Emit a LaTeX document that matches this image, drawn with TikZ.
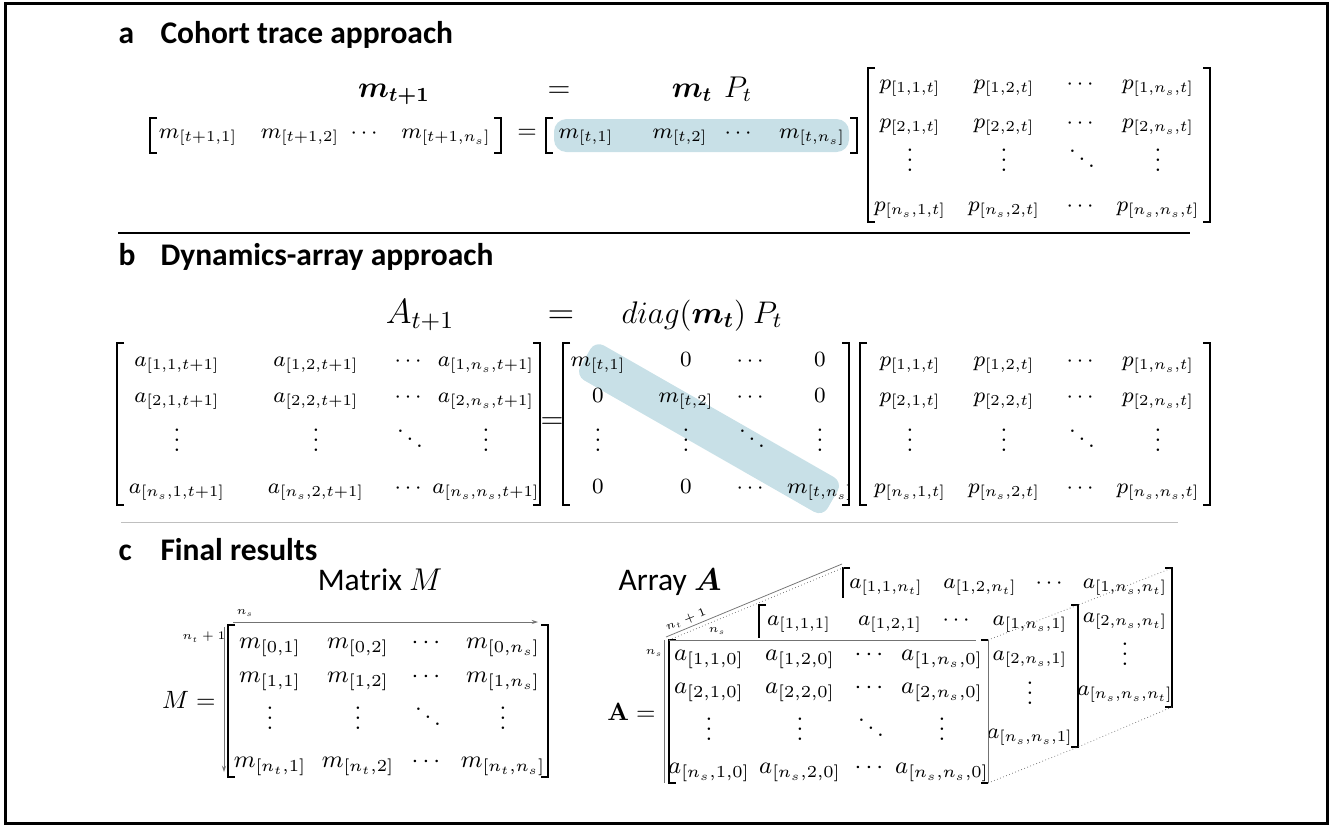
\RequirePackage{fix-cm}
\documentclass[tikz,border=0pt]{standalone}
\usepackage{amsmath,amssymb}
\usepackage[no-math]{fontspec}
\setmainfont{Carlito}
\usepackage{tikz}
\usetikzlibrary{arrows.meta}
\pgfdeclarelayer{bg}
\pgfsetlayers{bg,main}
\definecolor{hlblue}{RGB}{200,224,231}
\newcommand{\vdts}{\vbox{\baselineskip4pt\lineskiplimit0pt\hbox{$.$}\hbox{$.$}\hbox{$.$}}}
\newcommand{\ddts}{\mathinner{\mkern1mu\raisebox{7pt}{$.$}\mkern2mu\raisebox{4pt}{$.$}\mkern2mu\raisebox{1pt}{$.$}\mkern1mu}}
\tikzset{
  ttl/.style={anchor=base west, inner sep=0pt, font=\fontsize{12.6}{15}\selectfont\bfseries},
  sub/.style={anchor=base, inner sep=0pt, font=\fontsize{12.6}{15}\selectfont},
  eqn/.style={anchor=base, inner sep=0pt, font=\fontsize{12}{14}\selectfont},
  ent/.style={anchor=base, inner sep=0pt, font=\fontsize{8.7}{10}\selectfont},
  entc/.style={anchor=base, inner sep=0pt, font=\fontsize{9.6}{11}\selectfont},
  dts/.style={anchor=center, inner sep=0pt, font=\fontsize{9.5}{11}\selectfont},
  lbl/.style={inner sep=0pt, font=\fontsize{4.6}{5}\selectfont},
  brk/.style={line width=0.6pt},
  rule/.style={line width=0.6pt},
  grule/.style={line width=0.4pt, black!25},
  axis/.style={line width=0.3pt, black!55},
  dotl/.style={line width=0.3pt, black!55, densely dotted},
  band/.style={fill=hlblue, rounded corners=4pt, minimum width=114pt, minimum height=16pt, inner sep=0pt}
}
\begin{document}
\begin{tikzpicture}[x=0.4pt, y=-0.4pt]
        \useasboundingbox (0,0) rectangle (1337,827);
        \draw [line width=1.2pt] (5,3) rectangle (1327,823);
        % a
        \node (lbla) [ttl] at (118,43) {a};
        \node (ttla) [ttl] at (160,43) {Cohort trace approach};
        \node (mnext) [eqn] at (394,97) {$\boldsymbol{m_{t+1}}$};
        \node (eqa) [eqn] at (559,97) {$=$};
        \node (mprod) [eqn] at (712,97) {$\boldsymbol{m_t}\ \,P_t$};
        \node (r1) [ent] at (198,138) {$m_{[t+1,1]}$};
        \node (r2) [ent] at (300,138) {$m_{[t+1,2]}$};
        \node (r3) [ent] at (366,138) {$\cdots$};
        \node (r4) [ent] at (446,138) {$m_{[t+1,n_s]}$};
        \draw [brk] (157,118) -| (150,153) -- (157,153);
        \draw [brk] (494,118) -| (501,153) -- (494,153);
        \node (eqr) [ent, font=\fontsize{10}{12}\selectfont] at (527,138) {$=$};
        \node (s1) [ent] at (586,138) {$m_{[t,1]}$};
        \node (s2) [ent] at (680,138) {$m_{[t,2]}$};
        \node (s3) [ent] at (740,138) {$\cdots$};
        \node (s4) [ent] at (812,138) {$m_{[t,n_s]}$};
        \draw [brk] (553,118) -| (546,153) -- (553,153);
        \draw [brk] (850,118) -| (857,153) -- (850,153);
        \begin{pgfonlayer}{bg}
                \fill [hlblue, rounded corners=5pt] (554,119) rectangle (849,152);
        \end{pgfonlayer}
        \node (pa11) [ent] at (910,89) {$p_{[1,1,t]}$};
        \node (pa12) [ent] at (1004,89) {$p_{[1,2,t]}$};
        \node (pa13) [ent] at (1082,89) {$\cdots$};
        \node (pa14) [ent] at (1158,89) {$p_{[1,n_s,t]}$};
        \node (pa21) [ent] at (910,128) {$p_{[2,1,t]}$};
        \node (pa22) [ent] at (1004,128) {$p_{[2,2,t]}$};
        \node (pa23) [ent] at (1082,128) {$\cdots$};
        \node (pa24) [ent] at (1158,128) {$p_{[2,n_s,t]}$};
        \node (pa31) [dts] at (910,160) {$\vdts$};
        \node (pa32) [dts] at (1004,160) {$\vdts$};
        \node (pa33) [dts] at (1082,160) {$\ddts$};
        \node (pa34) [dts] at (1158,160) {$\vdts$};
        \node (pa41) [ent] at (910,211) {$p_{[n_s,1,t]}$};
        \node (pa42) [ent] at (1004,211) {$p_{[n_s,2,t]}$};
        \node (pa43) [ent] at (1082,211) {$\cdots$};
        \node (pa44) [ent] at (1158,211) {$p_{[n_s,n_s,t]}$};
        \draw [brk] (875,68) -| (868,222) -- (875,222);
        \draw [brk] (1203,68) -| (1210,222) -- (1203,222);
        \draw [rule] (118,233) -- (1190,233);
        % b
        \node (lblb) [ttl] at (118,265) {b};
        \node (ttlb) [ttl] at (160,265) {Dynamics-array approach};
        \node (anext) [eqn, font=\fontsize{14}{16}\selectfont] at (420,323) {$A_{t+1}$};
        \node (eqb) [eqn, font=\fontsize{14}{16}\selectfont] at (561,323) {$=$};
        \node (dprod) [eqn, font=\fontsize{12.5}{15}\selectfont] at (702,323) {$diag(\boldsymbol{m_t})\ P_t$};
        \node (a11) [ent] at (177,366) {$a_{[1,1,t+1]}$};
        \node (a12) [ent] at (316,366) {$a_{[1,2,t+1]}$};
        \node (a13) [ent] at (410,366) {$\cdots$};
        \node (a14) [ent] at (486,366) {$a_{[1,n_s,t+1]}$};
        \node (a21) [ent] at (177,402) {$a_{[2,1,t+1]}$};
        \node (a22) [ent] at (316,402) {$a_{[2,2,t+1]}$};
        \node (a23) [ent] at (410,402) {$\cdots$};
        \node (a24) [ent] at (486,402) {$a_{[2,n_s,t+1]}$};
        \node (a31) [dts] at (177,440) {$\vdts$};
        \node (a32) [dts] at (316,440) {$\vdts$};
        \node (a33) [dts] at (410,440) {$\ddts$};
        \node (a34) [dts] at (486,440) {$\vdts$};
        \node (a41) [ent] at (177,493) {$a_{[n_s,1,t+1]}$};
        \node (a42) [ent] at (316,493) {$a_{[n_s,2,t+1]}$};
        \node (a43) [ent] at (410,493) {$\cdots$};
        \node (a44) [ent] at (486,493) {$a_{[n_s,n_s,t+1]}$};
        \draw [brk] (124,343) -| (117,505) -- (124,505);
        \draw [brk] (533,343) -| (540,505) -- (533,505);
        \node (eqm) [dts, font=\fontsize{12}{14}\selectfont] at (552,423) {$=$};
        \node (d11) [ent] at (598,366) {$m_{[t,1]}$};
        \node (d12) [ent] at (686,366) {$0$};
        \node (d13) [ent] at (752,366) {$\cdots$};
        \node (d14) [ent] at (820,366) {$0$};
        \node (d21) [ent] at (598,402) {$0$};
        \node (d22) [ent] at (686,402) {$m_{[t,2]}$};
        \node (d23) [ent] at (752,402) {$\cdots$};
        \node (d24) [ent] at (820,402) {$0$};
        \node (d31) [dts] at (598,440) {$\vdts$};
        \node (d32) [dts] at (686,440) {$\vdts$};
        \node (d33) [dts] at (752,440) {$\ddts$};
        \node (d34) [dts] at (820,440) {$\vdts$};
        \node (d41) [ent] at (598,493) {$0$};
        \node (d42) [ent] at (686,493) {$0$};
        \node (d43) [ent] at (752,493) {$\cdots$};
        \node (d44) [ent] at (820,493) {$m_{[t,n_s]}$};
        \draw [brk] (570,343) -| (563,505) -- (570,505);
        \draw [brk] (842,343) -| (849,505) -- (842,505);
        \begin{pgfonlayer}{bg}
                \path (d11.center) -- (d44.center) node [midway, sloped, band] (hl) {};
        \end{pgfonlayer}
        \node (pb11) [ent] at (910,366) {$p_{[1,1,t]}$};
        \node (pb12) [ent] at (1004,366) {$p_{[1,2,t]}$};
        \node (pb13) [ent] at (1082,366) {$\cdots$};
        \node (pb14) [ent] at (1158,366) {$p_{[1,n_s,t]}$};
        \node (pb21) [ent] at (910,402) {$p_{[2,1,t]}$};
        \node (pb22) [ent] at (1004,402) {$p_{[2,2,t]}$};
        \node (pb23) [ent] at (1082,402) {$\cdots$};
        \node (pb24) [ent] at (1158,402) {$p_{[2,n_s,t]}$};
        \node (pb31) [dts] at (910,440) {$\vdts$};
        \node (pb32) [dts] at (1004,440) {$\vdts$};
        \node (pb33) [dts] at (1082,440) {$\ddts$};
        \node (pb34) [dts] at (1158,440) {$\vdts$};
        \node (pb41) [ent] at (910,493) {$p_{[n_s,1,t]}$};
        \node (pb42) [ent] at (1004,493) {$p_{[n_s,2,t]}$};
        \node (pb43) [ent] at (1082,493) {$\cdots$};
        \node (pb44) [ent] at (1158,493) {$p_{[n_s,n_s,t]}$};
        \draw [brk] (867,343) -| (860,505) -- (867,505);
        \draw [brk] (1203,343) -| (1210,505) -- (1203,505);
        \draw [grule] (121,522) -- (1178,522);
        % c
        \node (lblc) [ttl] at (118,560) {c};
        \node (ttlc) [ttl] at (160,560) {Final results};
        \node (mtitle) [sub] at (380,590) {Matrix $M$};
        \node (atitle) [sub] at (670,590) {Array $\boldsymbol{A}$};
        \coordinate (nsa) at (233,622);
        \coordinate (nsb) at (538,622);
        \coordinate (nta) at (224,627);
        \coordinate (ntb) at (224,772);
        \draw [axis, -{Stealth[length=2.5pt, width=1.6pt]}] (nsa) -- (nsb);
        \draw [axis, -{Stealth[length=2.5pt, width=1.6pt]}] (nta) -- (ntb);
        \node (nslbl) [lbl] at (245,613) {$n_s$};
        \node (ntlbl) [lbl] at (204,637) {$n_t+1$};
        \node (meq) [dts, font=\fontsize{10}{12}\selectfont, anchor=east] at (216,700) {$M =$};
        \node (m11) [entc] at (270,648) {$m_{[0,1]}$};
        \node (m12) [entc] at (358,648) {$m_{[0,2]}$};
        \node (m13) [entc] at (428,648) {$\cdots$};
        \node (m14) [entc] at (503,648) {$m_{[0,n_s]}$};
        \node (m21) [entc] at (270,682) {$m_{[1,1]}$};
        \node (m22) [entc] at (358,682) {$m_{[1,2]}$};
        \node (m23) [entc] at (428,682) {$\cdots$};
        \node (m24) [entc] at (503,682) {$m_{[1,n_s]}$};
        \node (m31) [dts] at (270,718) {$\vdts$};
        \node (m32) [dts] at (358,718) {$\vdts$};
        \node (m33) [dts] at (428,718) {$\ddts$};
        \node (m34) [dts] at (503,718) {$\vdts$};
        \node (m41) [entc] at (270,767) {$m_{[n_t,1]}$};
        \node (m42) [entc] at (358,767) {$m_{[n_t,2]}$};
        \node (m43) [entc] at (428,767) {$\cdots$};
        \node (m44) [entc] at (503,767) {$m_{[n_t,n_s]}$};
        \draw [brk] (235,625) -| (228,777) -- (235,777);
        \draw [brk] (541,625) -| (548,777) -- (541,777);
        % array, back slice
        \node (b11) [ent] at (886,588) {$a_{[1,1,n_t]}$};
        \node (b12) [ent] at (980,588) {$a_{[1,2,n_t]}$};
        \node (b13) [ent] at (1051,588) {$\cdots$};
        \node (b14) [ent] at (1125,588) {$a_{[1,n_s,n_t]}$};
        \node (b24) [ent] at (1125,622) {$a_{[2,n_s,n_t]}$};
        \node (b34) [dts] at (1125,654) {$\vdts$};
        \node (b44) [ent] at (1125,695) {$a_{[n_s,n_s,n_t]}$};
        \draw [brk] (850,568) -| (843,598);
        \draw [brk] (1165,568) -| (1172,707) -- (1165,707);
        % array, middle slice
        \node (c11) [ent] at (799,625) {$a_{[1,1,1]}$};
        \node (c12) [ent] at (890,625) {$a_{[1,2,1]}$};
        \node (c13) [ent] at (958,625) {$\cdots$};
        \node (c14) [ent] at (1030,625) {$a_{[1,n_s,1]}$};
        \node (c24) [ent] at (1030,660) {$a_{[2,n_s,1]}$};
        \node (c34) [dts] at (1030,693) {$\vdts$};
        \node (c44) [ent] at (1030,738) {$a_{[n_s,n_s,1]}$};
        \draw [brk] (766,605) -| (759,638);
        \draw [brk] (1071,605) -| (1078,747) -- (1071,747);
        % array, front slice
        \node (aeq) [dts, font=\fontsize{10}{12}\selectfont, anchor=east] at (656,712) {$\mathbf{A} =$};
        \node (f11) [entc] at (709,660) {$a_{[1,1,0]}$};
        \node (f12) [entc] at (800,660) {$a_{[1,2,0]}$};
        \node (f13) [entc] at (871,660) {$\cdots$};
        \node (f14) [entc] at (942,660) {$a_{[1,n_s,0]}$};
        \node (f21) [entc] at (709,693) {$a_{[2,1,0]}$};
        \node (f22) [entc] at (800,693) {$a_{[2,2,0]}$};
        \node (f23) [entc] at (871,693) {$\cdots$};
        \node (f24) [entc] at (942,693) {$a_{[2,n_s,0]}$};
        \node (f31) [dts] at (709,729) {$\vdts$};
        \node (f32) [dts] at (800,729) {$\vdts$};
        \node (f33) [dts] at (871,729) {$\ddts$};
        \node (f34) [dts] at (942,729) {$\vdts$};
        \node (f41) [entc] at (709,773) {$a_{[n_s,1,0]}$};
        \node (f42) [entc] at (800,773) {$a_{[n_s,2,0]}$};
        \node (f43) [entc] at (871,773) {$\cdots$};
        \node (f44) [entc] at (942,773) {$a_{[n_s,n_s,0]}$};
        \draw [brk] (676,640) -| (669,783) -- (676,783);
        \draw [axis] (669,640) -- (976,640);
        \draw [axis] (664,640) -- (664,783);
        \draw [axis] (988,640) -- (988,783);
        \draw [brk] (981,640) -- (988,640);
        \draw [brk] (981,783) -- (988,783);
        \node (nsl1) [lbl] at (654,653) {$n_s$};
        \node (nsl2) [lbl] at (717,631) {$n_s$};
        \coordinate (fnw) at (666,637);
        \coordinate (bnw) at (842,564);
        \coordinate (fnw2) at (669,640);
        \coordinate (bnw2) at (845,567);
        \draw [axis] (fnw) -- (bnw);
        \draw [dotl] (fnw2) -- (bnw2);
        \node (ntl2) [lbl, rotate=22] at (686,620) {$n_t+1$};
        \coordinate (fne) at (988,640);
        \coordinate (mne) at (1078,605);
        \coordinate (bne) at (1172,568);
        \coordinate (fse) at (988,783);
        \coordinate (mse) at (1078,747);
        \coordinate (bse) at (1172,707);
        \draw [dotl] (fne) -- (mne) -- (bne);
        \draw [dotl] (fse) -- (mse) -- (bse);
\end{tikzpicture}
\end{document}
